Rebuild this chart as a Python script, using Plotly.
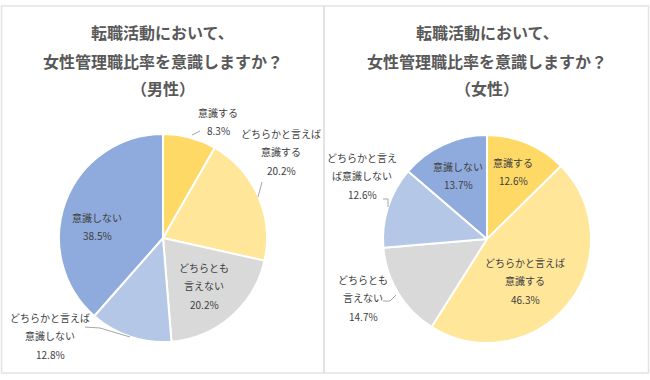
import plotly.graph_objects as go

# ---------------- data ----------------
categories = ["意識する", "どちらかと言えば意識する", "どちらとも言えない",
              "どちらかと言えば意識しない", "意識しない"]
male_values = [8.3, 20.2, 20.2, 12.8, 38.5]
female_values = [12.6, 46.3, 14.7, 12.6, 13.7]
title_lines = ["転職活動において、", "女性管理職比率を意識しますか？"]
male_subtitle = "（男性）"
female_subtitle = "（女性）"
colors = ["#FFD966", "#FFE699", "#D9D9D9", "#B4C7E7", "#8FAADC"]

# how each category name is broken into lines for each chart
male_breaks = [["意識する"], ["どちらかと言えば", "意識する"], ["どちらとも", "言えない"],
               ["どちらかと言えば", "意識しない"], ["意識しない"]]
female_breaks = [["意識する"], ["どちらかと言えば", "意識する"], ["どちらとも", "言えない"],
                 ["どちらかと言え", "ば意識しない"], ["意識しない"]]

W, H = 650, 380

def px(x):
    return x / W

def py(y):
    return 1 - y / H

fig = go.Figure()

def add_pie(values, cx, cy, r):
    fig.add_trace(go.Pie(
        labels=categories, values=values, sort=False, direction="clockwise",
        rotation=0, textinfo="none", hoverinfo="label+percent",
        marker=dict(colors=colors, line=dict(color="white", width=2)),
        domain=dict(x=[px(cx - r), px(cx + r)], y=[py(cy + r), py(cy - r)]),
        showlegend=False,
    ))

add_pie(male_values, 163, 238, 104)
add_pie(female_values, 487, 239, 104)

annotations = []

def text_at(x, y, s, size=10, color="#404040", bold=False):
    annotations.append(dict(
        x=px(x), y=py(y), xref="paper", yref="paper", text=f"<b>{s}</b>" if bold else s,
        showarrow=False, xanchor="center", yanchor="middle",
        font=dict(family="Noto Sans CJK JP", size=size, color=color)))

# titles
for cx, sub in [(163, male_subtitle), (487, female_subtitle)]:
    text_at(cx, 32, title_lines[0], size=16, color="#595959", bold=True)
    text_at(cx, 61, title_lines[1], size=16, color="#595959", bold=True)
    text_at(cx, 88, sub, size=16, color="#595959", bold=True)

# data label placement (layout): centre x, first-line y
male_pos = [(218, 112), (281, 133), (204, 267), (50, 317), (97, 217)]
female_pos = [(513, 162), (525, 262), (363, 279), (362, 157), (458, 166)]

def add_labels(values, breaks, pos):
    for v, lines, (x, y) in zip(values, breaks, pos):
        all_lines = lines + [f"{v:.1f}%"]
        for i, ln in enumerate(all_lines):
            text_at(x, y + i * 18.5, ln)

add_labels(male_values, male_breaks, male_pos)
add_labels(female_values, female_breaks, female_pos)

shapes = []

def seg(pts, color="#A6A6A6"):
    path = "M " + " L ".join(f"{px(x)},{py(y)}" for x, y in pts)
    shapes.append(dict(type="path", path=path, xref="paper", yref="paper",
                       line=dict(color=color, width=1)))

# leader lines
seg([(192, 135), (200, 131)])
seg([(258, 197), (262, 182)])
seg([(85, 327), (100, 328), (130, 337)])
seg([(383, 199), (388, 199), (388, 207)])
seg([(383, 301), (390, 301), (396, 295)])

# panel borders
shapes.append(dict(type="rect", xref="paper", yref="paper",
                   x0=px(1.5), x1=px(648.5), y0=py(373), y1=py(6),
                   line=dict(color="#E3E3E3", width=1.5)))
shapes.append(dict(type="line", xref="paper", yref="paper",
                   x0=px(324), x1=px(324), y0=py(373), y1=py(6),
                   line=dict(color="#E3E3E3", width=2)))

fig.update_layout(
    width=W, height=H, margin=dict(l=0, r=0, t=0, b=0),
    paper_bgcolor="white", plot_bgcolor="white",
    annotations=annotations, shapes=shapes,
)

fig.write_html("out.html", config={"displayModeBar": False},
               post_script="document.body.style.margin='0';document.body.style.overflow='hidden';")
